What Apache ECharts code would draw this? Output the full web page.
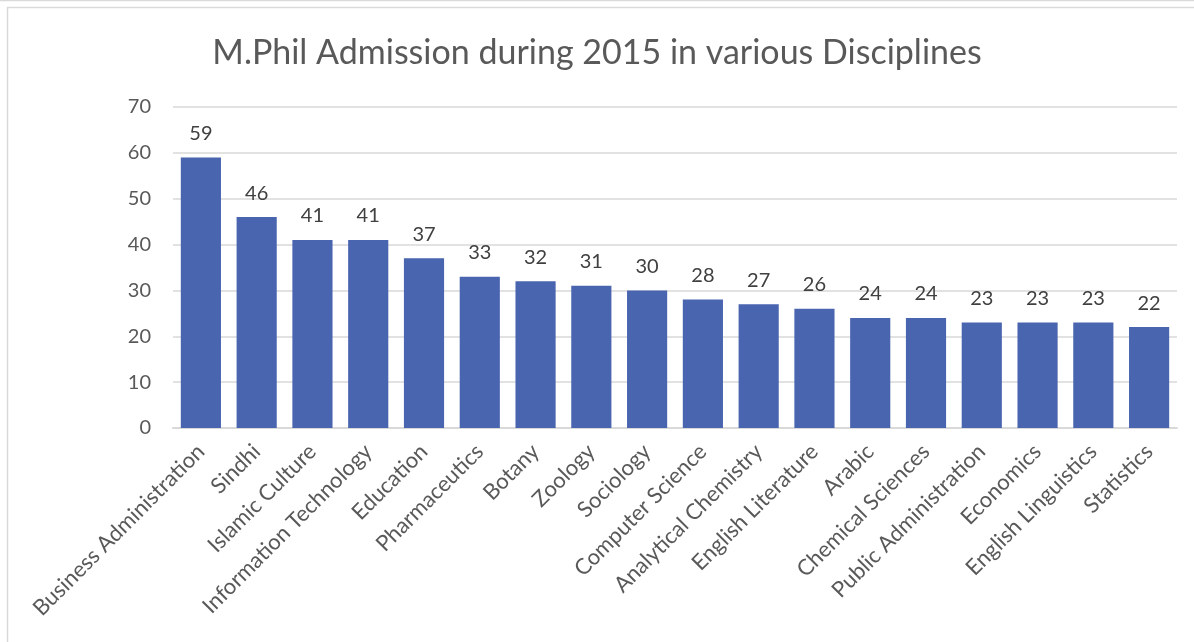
<!DOCTYPE html>
<html><head><meta charset="utf-8">
<script src="https://cdn.jsdelivr.net/npm/echarts@6/dist/echarts.min.js"></script>
<style>html,body{margin:0;padding:0;background:#fff}#c{width:1194px;height:642px}</style>
</head><body><div id="c"></div>
<script>
const titleText = "M.Phil Admission during 2015 in various Disciplines";
const categories = ["Business Administration","Sindhi","Islamic Culture","Information Technology","Education","Pharmaceutics","Botany","Zoology","Sociology","Computer Science","Analytical Chemistry","English Literature","Arabic","Chemical Sciences","Public Administration","Economics","English Linguistics","Statistics"];
const admissions = [59,46,41,41,37,33,32,31,30,28,27,26,24,24,23,23,23,22];
const yTicks = [0,10,20,30,40,50,60,70];

const font = "Lato, 'Open Sans', sans-serif";
const chart = echarts.init(document.getElementById('c'), null, {renderer:'canvas'});
chart.setOption({
  animation:false,
  backgroundColor:'#fff',
  title:{text:titleText,left:'center',top:31,textStyle:{fontFamily:font,fontSize:34,fontWeight:'normal',color:'#595959'}},
  grid:{left:173,right:17,top:107,bottom:214},
  xAxis:{type:'category',data:categories,
    axisLine:{lineStyle:{color:'#d9d9d9',width:2}},axisTick:{show:false},
    axisLabel:{rotate:45,interval:0,margin:20,fontFamily:font,fontSize:22,color:'#595959'}},
  yAxis:{type:'value',min:yTicks[0],max:yTicks[yTicks.length-1],interval:10,
    axisLine:{show:false},axisTick:{show:false},
    splitLine:{lineStyle:{color:'#d9d9d9',width:1.5}},
    axisLabel:{margin:22,fontFamily:font,fontSize:20,color:'#595959'}},
  series:[{type:'bar',data:admissions,barCategoryGap:'28%',
    itemStyle:{color:'#4965AF'},
    label:{show:true,position:'top',distance:14,fontFamily:font,fontSize:20,color:'#404040'}}],
  graphic:[
    {type:'rect',shape:{x:7.5,y:7.5,width:1300,height:800},style:{fill:null,stroke:'#d9d9d9',lineWidth:1.5},silent:true},
    {type:'line',shape:{x1:0,y1:0.5,x2:1194,y2:0.5},style:{stroke:'#d9d9d9',lineWidth:1.5},silent:true}
  ]
});
</script></body></html>
